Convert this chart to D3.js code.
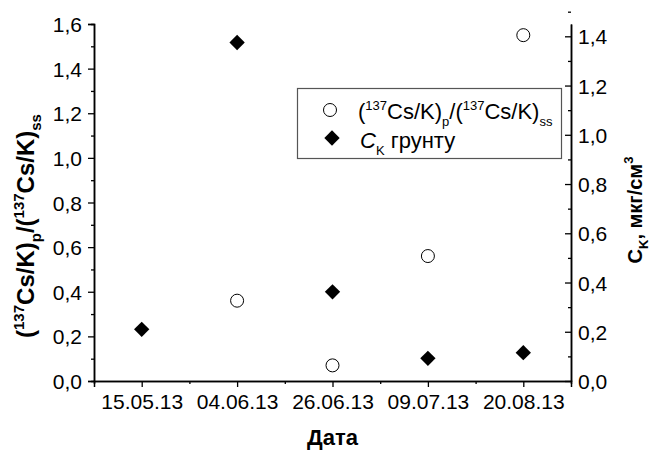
<!DOCTYPE html>
<html>
<head>
<meta charset="utf-8">
<script src="https://cdn.jsdelivr.net/npm/d3@7"></script>
<style>
  body { margin: 0; background: #fff; }
  text { font-family: "Liberation Sans", Arial, sans-serif; }
</style>
</head>
<body>
<div id="chart"></div>
<script>
// дані
const dates = ["15.05.13", "04.06.13", "26.06.13", "09.07.13", "20.08.13"];
const ratio = [null, 0.36, 0.07, 0.56, 1.55];       // (137Cs/K)p/(137Cs/K)ss, ліва вісь
const ck = [0.21, 1.375, 0.362, 0.092, 0.115];       // C_K грунту, права вісь
const leftTicks = [0, 0.2, 0.4, 0.6, 0.8, 1.0, 1.2, 1.4, 1.6];
const rightTicks = [0, 0.2, 0.4, 0.6, 0.8, 1.0, 1.2, 1.4];

const width = 651, height = 451;
const plot = { left: 94, right: 571, top: 24, bottom: 381 };

const svg = d3.select("#chart").append("svg")
    .attr("width", width)
    .attr("height", height);

const x = d3.scaleLinear()
    .domain([-0.5, dates.length - 0.5])
    .range([plot.left, plot.right]);
const yL = d3.scaleLinear().domain([0, 1.6]).range([plot.bottom, plot.top]);
const yR = d3.scaleLinear().domain([0, 1.45]).range([plot.bottom, plot.top]);

const comma = d => d3.format(".1f")(d).replace(".", ",");

// нижня вісь
svg.append("g")
    .attr("transform", `translate(0,${plot.bottom})`)
    .call(d3.axisBottom(x).tickValues(d3.range(dates.length))
        .tickFormat(i => dates[i]).tickSizeOuter(0).tickSize(6).tickPadding(7));
svg.append("g")
    .attr("transform", `translate(0,${plot.bottom})`)
    .call(d3.axisBottom(x).tickValues(d3.range(dates.length - 1).map(i => i + 0.5))
        .tickFormat("").tickSizeOuter(0).tickSize(3));

// ліва вісь
const yAxisL = svg.append("g")
    .attr("transform", `translate(${plot.left},0)`)
    .call(d3.axisLeft(yL).tickValues(leftTicks).tickFormat(comma)
        .tickSizeOuter(0).tickSize(6).tickPadding(6));
svg.append("g")
    .attr("transform", `translate(${plot.left},0)`)
    .call(d3.axisLeft(yL).tickValues(leftTicks.slice(0, -1).map(v => v + 0.1))
        .tickFormat("").tickSizeOuter(0).tickSize(3));

// права вісь, риски всередину
const yAxisR = svg.append("g")
    .attr("transform", `translate(${plot.right},0)`)
    .call(d3.axisRight(yR).tickValues(rightTicks).tickFormat(comma)
        .tickSizeOuter(0).tickSizeInner(-6).tickPadding(7));
svg.append("g")
    .attr("transform", `translate(${plot.right},0)`)
    .call(d3.axisRight(yR).tickValues(rightTicks.map(v => v + 0.1))
        .tickFormat("").tickSizeOuter(0).tickSizeInner(-3));

svg.selectAll(".domain").attr("stroke", "#000").attr("stroke-width", 1.5);
svg.selectAll(".tick line").attr("stroke", "#000").attr("stroke-width", 1.3);
svg.selectAll(".tick text")
    .attr("fill", "#000")
    .style("font-size", "21px")
    .style("font-family", "'Liberation Sans', Arial, sans-serif");
yAxisL.selectAll(".tick text").attr("dy", "0.36em");
yAxisR.selectAll(".tick text").attr("dy", "0.36em");

// точки
svg.append("g").selectAll("circle")
    .data(ratio.map((v, i) => ({ i, v })).filter(d => d.v != null))
    .enter().append("circle")
    .attr("cx", d => x(d.i))
    .attr("cy", d => yL(d.v))
    .attr("r", 6.5)
    .attr("fill", "#fff")
    .attr("stroke", "#000")
    .attr("stroke-width", 1);

const diamond = d3.symbol().type(d3.symbolDiamond2).size(150);
svg.append("g").selectAll("path")
    .data(ck.map((v, i) => ({ i, v })))
    .enter().append("path")
    .attr("d", diamond)
    .attr("transform", d => `translate(${x(d.i)},${yR(d.v)})`)
    .attr("fill", "#000");

// назви осей
svg.append("text")
    .attr("x", x(2))
    .attr("y", 445)
    .attr("text-anchor", "middle")
    .style("font-size", "22px")
    .style("font-weight", "bold")
    .text("Дата");

const tl = svg.append("text")
    .attr("transform", "translate(34,226) rotate(-90)")
    .attr("text-anchor", "middle")
    .style("font-size", "24px")
    .style("font-weight", "bold");
tl.append("tspan").text("(");
tl.append("tspan").attr("dy", -10).style("font-size", "15px").text("137");
tl.append("tspan").attr("dy", 10).text("Cs/K)");
tl.append("tspan").attr("dy", 7).style("font-size", "15px").text("p");
tl.append("tspan").attr("dy", -7).text("/(");
tl.append("tspan").attr("dy", -10).style("font-size", "15px").text("137");
tl.append("tspan").attr("dy", 10).text("Cs/K)");
tl.append("tspan").attr("dy", 7).style("font-size", "15px").text("ss");

const tr = svg.append("text")
    .attr("transform", "translate(642,210) rotate(-90)")
    .attr("text-anchor", "middle")
    .style("font-size", "20px")
    .style("font-weight", "bold");
tr.append("tspan").text("C");
tr.append("tspan").attr("dy", 6).style("font-size", "13px").text("K");
tr.append("tspan").attr("dy", -6).text(", мкг/см");
tr.append("tspan").attr("dy", -9).style("font-size", "13px").text("3");

// легенда
const lg = svg.append("g");
lg.append("rect")
    .attr("x", 297.5).attr("y", 88.5)
    .attr("width", 264).attr("height", 70)
    .attr("fill", "#fff")
    .attr("stroke", "#555")
    .attr("stroke-width", 1.2);
lg.append("circle")
    .attr("cx", 330).attr("cy", 110).attr("r", 6.5)
    .attr("fill", "#fff").attr("stroke", "#000");
lg.append("path")
    .attr("d", diamond)
    .attr("transform", "translate(332,138)")
    .attr("fill", "#000");

const l1 = lg.append("text").attr("x", 358).attr("y", 119).style("font-size", "22px");
l1.append("tspan").text("(");
l1.append("tspan").attr("dy", -9).style("font-size", "13px").text("137");
l1.append("tspan").attr("dy", 9).text("Cs/K)");
l1.append("tspan").attr("dy", 7).style("font-size", "13px").text("p");
l1.append("tspan").attr("dy", -7).text("/(");
l1.append("tspan").attr("dy", -9).style("font-size", "13px").text("137");
l1.append("tspan").attr("dy", 9).text("Cs/K)");
l1.append("tspan").attr("dy", 7).style("font-size", "13px").text("ss");

const l2 = lg.append("text").attr("x", 360).attr("y", 148).style("font-size", "22px");
l2.append("tspan").style("font-style", "italic").text("C");
l2.append("tspan").attr("dy", 7).style("font-size", "13px").text("K");
l2.append("tspan").attr("dy", -7).text(" грунту");
</script>
</body>
</html>
